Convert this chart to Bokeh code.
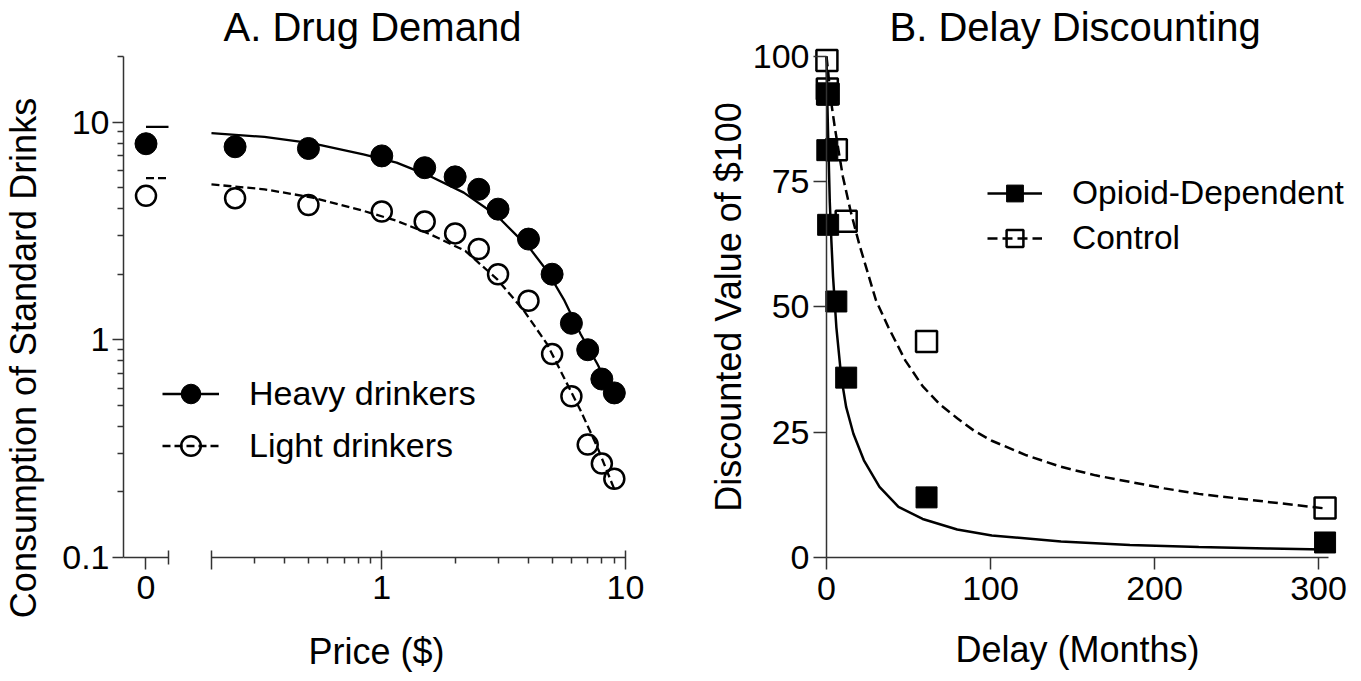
from bokeh.plotting import figure
from bokeh.layouts import row
from bokeh.models import (Range1d, FixedTicker, LinearAxis, LinearScale,
                          Legend, LegendItem)
from bokeh.embed import file_html
from bokeh.resources import INLINE

# ---------------- data: panel A (drug demand) ----------------
price = [0.25, 0.5, 1, 1.5, 2, 2.5, 3, 4, 5, 6, 7, 8, 9]
heavy = [7.70, 7.56, 6.99, 6.17, 5.60, 4.91, 3.98, 2.90, 2.00, 1.19, 0.90, 0.66, 0.57]
light = [4.47, 4.16, 3.88, 3.49, 3.08, 2.61, 2.00, 1.51, 0.86, 0.55, 0.33, 0.27, 0.23]

price_zero = [0]
heavy_zero = [7.95]
light_zero = [4.58]

heavy_fit_price = [0.2, 0.33, 0.52, 0.84, 1.15, 1.58, 2.17, 2.97, 4.08, 4.77, 5.59, 6.55, 7.67, 8.7, 9.2]
heavy_fit = [8.90, 8.54, 7.98, 7.11, 6.51, 5.64, 4.74, 3.71, 2.60, 2.07, 1.53, 1.06, 0.774, 0.584, 0.52]
light_fit_price = [0.2, 0.33, 0.52, 0.84, 1.15, 1.58, 2.2, 2.97, 3.83, 4.77, 5.59, 6.55, 7.67, 8.7, 9.0]
light_fit = [5.17, 4.91, 4.50, 3.91, 3.52, 3.05, 2.56, 1.90, 1.36, 0.955, 0.671, 0.472, 0.321, 0.226, 0.206]

zero_fit_price = [0, 0.1]
heavy_fit_zero = [9.5, 9.5]
light_fit_zero = [5.52, 5.52]

price_major_ticks = [0.2, 1, 10]
price_minor_ticks = [0.3, 0.4, 0.5, 0.6, 0.7, 0.8, 0.9, 2, 3, 4, 5, 6, 7, 8, 9]
price_labels = {0.2: "", 1: "1", 10: "10"}
cons_major_ticks = [0.1, 1, 10]
cons_minor_ticks = [0.2, 0.3, 0.4, 0.5, 0.6, 0.7, 0.8, 0.9, 2, 3, 4, 5, 6, 7, 8, 9, 20]
cons_labels = {0.1: "0.1", 1: "1", 10: "10"}

# ---------------- data: panel B (delay discounting) ----------------
delay = [0.25, 0.5, 1, 6, 12, 61, 304]
opioid = [92.4, 81.3, 66.4, 51.1, 35.9, 12.0, 3.0]
control = [99.2, 93.5, 92.5, 81.4, 67.1, 43.1, 9.9]

opioid_fit_delay = [0, 0.5, 1, 2, 3, 4, 6, 9, 12, 16.4, 22.8, 32.3, 43.9, 58.6, 79.7,
                    100.8, 143, 185, 227, 269, 303]
opioid_fit = [100, 91, 84, 71, 63, 56, 46, 36, 30, 24.7, 19.4, 14.1, 10.1, 7.7, 5.6,
              4.4, 3.2, 2.5, 2.1, 1.8, 1.6]
control_fit_delay = [0, 1, 2.6, 5, 7.7, 10, 14.8, 20, 25, 30.1, 37.5, 48.1, 58.6, 69, 79.7,
                     90, 100.8, 121.9, 143, 164, 185, 206, 227, 248, 269, 304]
control_fit = [100, 97, 91.5, 86, 80.5, 76, 69, 62.5, 57, 51.4, 46.1, 39.3, 34.2, 30.6, 27.8,
               25.3, 23.3, 20.4, 18.1, 16.4, 15.1, 13.8, 12.7, 11.9, 11.1, 9.8]

delay_ticks = [0, 100, 200, 300]
value_ticks = [0, 25, 50, 75, 100]

FONT = "Liberation Sans"
AX = "#333333"


def style_axis(ax, tick_out=12, label_standoff=7):
    ax.axis_line_color = AX
    ax.axis_line_width = 1.5
    ax.major_tick_line_color = AX
    ax.major_tick_line_width = 1.5
    ax.minor_tick_line_color = AX
    ax.minor_tick_line_width = 1.5
    ax.major_tick_out = tick_out
    ax.major_tick_in = 0
    ax.minor_tick_out = 6
    ax.minor_tick_in = 0
    ax.major_label_text_font = FONT
    ax.major_label_text_font_size = "34px"
    ax.major_label_text_color = "black"
    ax.major_label_standoff = label_standoff
    ax.axis_label_text_font = FONT
    ax.axis_label_text_font_size = "36px"
    ax.axis_label_text_font_style = "normal"
    ax.axis_label_text_color = "black"


def style_title(p, align, offset, standoff):
    p.title.text_font = FONT
    p.title.text_font_size = "40px"
    p.title.text_font_style = "normal"
    p.title.text_color = "black"
    p.title.align = align
    p.title.offset = offset
    p.title.standoff = standoff


# ================= Panel A =================
pa = figure(x_axis_type="log", y_axis_type="log",
            x_range=Range1d(0.0871, 12.55), y_range=Range1d(0.02932, 23.19),
            frame_width=526, frame_height=631,
            min_border_left=118, min_border_right=0,
            min_border_top=42, min_border_bottom=0,
            title="A. Drug Demand",
            output_backend="svg", toolbar_location=None)
pa.extra_x_ranges = {"lin": Range1d(-0.1, 2.2378)}
pa.extra_x_scales = {"lin": LinearScale()}
pa.grid.visible = False
pa.outline_line_color = None
style_title(pa, "left", 100, -13)

log_ax = pa.below[0]
style_axis(log_ax)
log_ax.fixed_location = 0.1
log_ax.bounds = (0.2, 10)
log_ax.ticker = FixedTicker(ticks=price_major_ticks, minor_ticks=price_minor_ticks)
log_ax.major_label_overrides = price_labels
log_ax.major_tick_in = 7

lin_ax = LinearAxis(x_range_name="lin", fixed_location=0.1, bounds=(-0.1, 0.1),
                    ticker=FixedTicker(ticks=[0], minor_ticks=[0.1]))
style_axis(lin_ax)
lin_ax.major_label_overrides = {0: "0"}
lin_ax.minor_tick_in = 7
lin_ax.minor_tick_out = 7
pa.add_layout(lin_ax, "below")

# axis that only carries the shared "Price ($)" title, centred under the whole broken axis
price_title_ax = LinearAxis(x_range_name="lin", fixed_location=0.1, bounds=(-0.1, 2.149),
                            ticker=FixedTicker(ticks=[]))
style_axis(price_title_ax, tick_out=0, label_standoff=0)
price_title_ax.axis_line_color = None
price_title_ax.major_tick_line_color = None
price_title_ax.minor_tick_line_color = None
price_title_ax.minor_tick_out = 0
price_title_ax.axis_label = "Price ($)"
price_title_ax.axis_label_standoff = 73
pa.add_layout(price_title_ax, "below")

ya = pa.left[0]
style_axis(ya, tick_out=11, label_standoff=3)
ya.bounds = (0.1, 20)
ya.ticker = FixedTicker(ticks=cons_major_ticks, minor_ticks=cons_minor_ticks)
ya.major_label_overrides = cons_labels
ya.axis_label = "Consumption of Standard Drinks"
ya.axis_label_standoff = 15

hl = pa.line(heavy_fit_price, heavy_fit, line_color="black", line_width=2.3)
ll = pa.line(light_fit_price, light_fit, line_color="black", line_width=2.3, line_dash="8 4")
pa.line(zero_fit_price, heavy_fit_zero, x_range_name="lin", line_color="black", line_width=2.3)
pa.line(zero_fit_price, light_fit_zero, x_range_name="lin", line_color="black", line_width=2.3,
        line_dash="8 4")
hs = pa.scatter(price, heavy, marker="circle", size=22, fill_color="black", line_color="black")
ls = pa.scatter(price, light, marker="circle", size=20, fill_color=None, line_color="black",
                line_width=2.5)
pa.scatter(price_zero, heavy_zero, x_range_name="lin", marker="circle", size=22,
           fill_color="black", line_color="black")
pa.scatter(price_zero, light_zero, x_range_name="lin", marker="circle", size=20,
           fill_color=None, line_color="black", line_width=2.5)

leg_a = Legend(items=[LegendItem(label="Heavy drinkers", renderers=[hl, hs]),
                      LegendItem(label="Light drinkers", renderers=[ll, ls])],
               location=(39, 203.5), orientation="vertical",
               glyph_width=57, glyph_height=49, spacing=3, padding=0, margin=0,
               label_standoff=30, label_text_font=FONT, label_text_font_size="34px",
               label_text_color="black",
               border_line_color=None, background_fill_alpha=0)
pa.add_layout(leg_a)

# ================= Panel B =================
pb = figure(x_range=Range1d(-103.05, 318.9), y_range=Range1d(-23.15, 102.79),
            frame_width=692, frame_height=631,
            min_border_left=8, min_border_right=1,
            min_border_top=42, min_border_bottom=0,
            title="B. Delay Discounting",
            output_backend="svg", toolbar_location=None)
pb.grid.visible = False
pb.outline_line_color = None
style_title(pb, "left", 232, -13)

xb = pb.xaxis[0]
style_axis(xb)
xb.fixed_location = 0
xb.bounds = (0, 306)
xb.ticker = FixedTicker(ticks=delay_ticks)
xb.axis_label = "Delay (Months)"
xb.axis_label_standoff = 26

yb = pb.yaxis[0]
style_axis(yb, tick_out=13, label_standoff=4)
yb.fixed_location = 0
yb.bounds = (0, 100)
yb.ticker = FixedTicker(ticks=value_ticks)
yb.axis_label = "Discounted Value of $100"
yb.axis_label_standoff = 1

cl = pb.line(control_fit_delay, control_fit, line_color="black", line_width=2.5, line_dash="10 5")
ol = pb.line(opioid_fit_delay, opioid_fit, line_color="black", line_width=2.5)
cs = pb.scatter(delay, control, marker="square", size=21, fill_color=None,
                line_color="black", line_width=2.5)
os_ = pb.scatter(delay, opioid, marker="square", size=21, fill_color="black",
                 line_color="black")

leg_b = Legend(items=[LegendItem(label="Opioid-Dependent", renderers=[ol, os_]),
                      LegendItem(label="Control", renderers=[cl, cs])],
               location=(330, 414), orientation="vertical",
               glyph_width=55, glyph_height=42, spacing=3, padding=0, margin=0,
               label_standoff=30, label_text_font=FONT, label_text_font_size="33.5px",
               label_text_color="black",
               border_line_color=None, background_fill_alpha=0)
pb.add_layout(leg_b)

layout = row(pa, pb, spacing=0)
open("out.html", "w").write(file_html(layout, INLINE))
